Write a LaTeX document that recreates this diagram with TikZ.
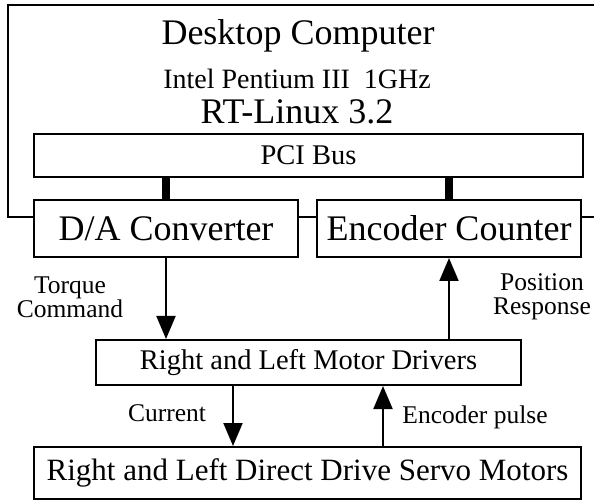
\documentclass[tikz,border=0pt]{standalone}
\usepackage{fontspec}
\setmainfont{Liberation Serif}
\usetikzlibrary{arrows.meta}

\begin{document}
\begin{tikzpicture}[x=1pt, y=-1pt, line width=2pt,
    box/.style={draw, inner sep=0pt, minimum height=#1},
    bus/.style={line width=8pt},
    sig/.style={-{Triangle[length=23pt, width=19pt]}},
    lbl/.style={font=\fontsize{25.5}{28}\selectfont, align=center}]
    \useasboundingbox (0,0) rectangle (594,502);

    % Desktop computer text
    \node (title) at (298,36) {\fontsize{36}{40}\selectfont Desktop Computer};
    \node (cpu) at (297,79) {\fontsize{28}{32}\selectfont Intel Pentium III\ \ 1GHz};
    \node (os) at (297,112) {\fontsize{36}{40}\selectfont RT-Linux 3.2};

    % Boxes
    \node[box=43pt, minimum width=549pt] (pci) at (308.5,155.5) {\fontsize{28.5}{32}\selectfont PCI Bus};
    \node[box=57pt, minimum width=264pt] (da) at (166,228.5) {\fontsize{36}{40}\selectfont D/A Converter};
    \node[box=57pt, minimum width=264pt] (enc) at (449,228.5) {\fontsize{36}{40}\selectfont Encoder Counter};
    \node[box=45pt, minimum width=425pt] (drv) at (308.5,362.5) {\fontsize{28.5}{32}\selectfont Right and Left Motor Drivers};
    \node[box=52pt, minimum width=547pt] (servo) at (307.5,473) {\fontsize{31}{34}\selectfont Right and Left Direct Drive Servo Motors};

    % Computer frame
    \draw (da.west |- 0,217) -- (8,217) -- (8,5) -- (594,5);
    \draw (da.east |- 0,217) -- (enc.west |- 0,217);
    \draw (enc.east |- 0,217) -- (594,217);

    % Bus links
    \draw[bus] (pci.south -| da) -- (da.north);
    \draw[bus] (pci.south -| enc) -- (enc.north);

    % Signals
    \draw[sig] (da.south) -- (drv.north -| da);
    \draw[sig] (drv.north -| enc) -- (enc.south);
    \draw[sig] (drv.south -| 233,0) -- (servo.north -| 233,0);
    \draw[sig] (servo.north -| 383,0) -- (drv.south -| 383,0);

    % Labels
    \node[lbl] (torque) at (70,297) {Torque\\[-4pt]Command};
    \node[lbl] (pos) at (542,297) {Position\\[-4pt]Response};
    \node[lbl] (cur) at (167,413) {Current};
    \node[lbl] (pulse) at (475,417) {Encoder pulse};
\end{tikzpicture}
\end{document}
